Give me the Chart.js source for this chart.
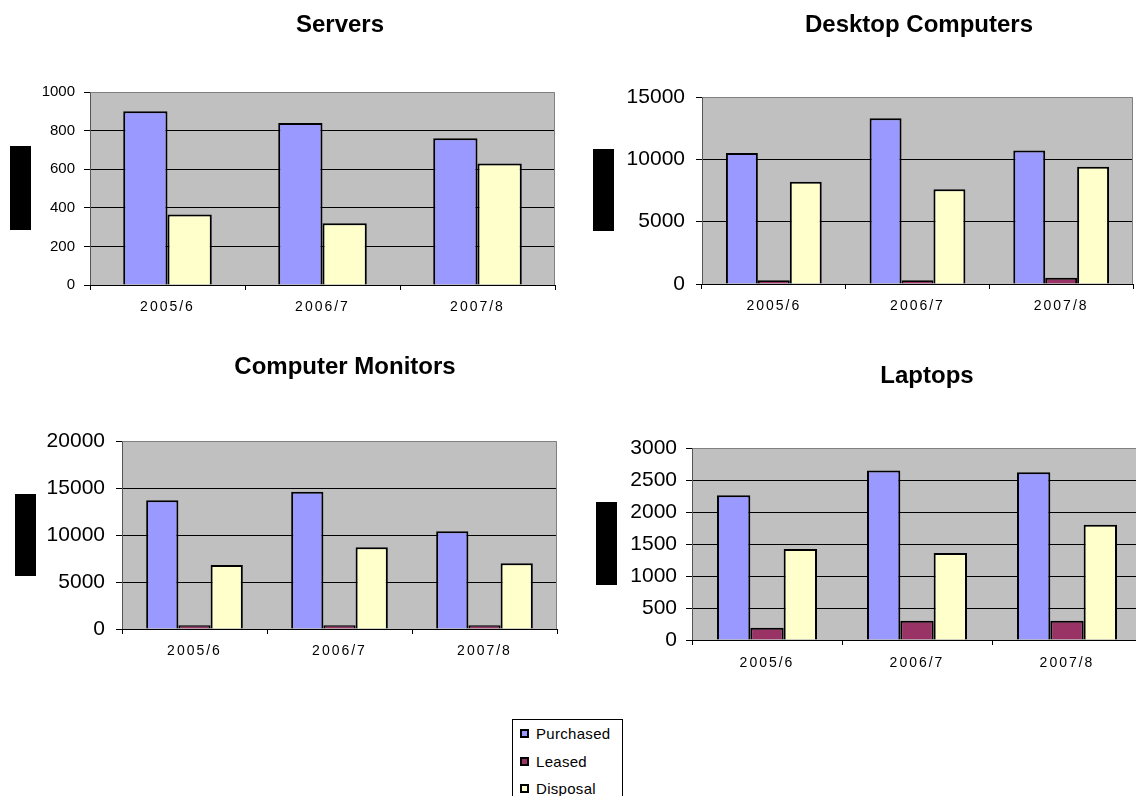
<!DOCTYPE html>
<html>
<head>
<meta charset="utf-8">
<title>IT Equipment</title>
<script src="https://cdn.jsdelivr.net/npm/chart.js@4.4.1/dist/chart.umd.min.js"></script>
<style>
  html, body { margin: 0; padding: 0; background: #fff; }
  body { width: 1136px; height: 796px; position: relative; overflow: hidden;
         font-family: "Liberation Sans", Arial, sans-serif; }
  canvas { position: absolute; }
  #legend { position: absolute; left: 512px; top: 719px; width: 111px; height: 95px;
            border: 1px solid #000; box-sizing: border-box; background: #fff; }
  .item { position: absolute; left: 7px; height: 18px; display: flex; align-items: center;
          font-size: 15px; color: #000; white-space: nowrap; letter-spacing: 0.3px; }
  .swatch { width: 9px; height: 9px; box-sizing: border-box; border: 2px solid #000;
            margin-right: 7px; }
</style>
</head>
<body>
<canvas id="servers"  width="560" height="330" style="left:0px;top:0px"></canvas>
<canvas id="desktops" width="556" height="330" style="left:580px;top:0px"></canvas>
<canvas id="monitors" width="565" height="330" style="left:0px;top:340px"></canvas>
<canvas id="laptops"  width="580" height="340" style="left:580px;top:340px"></canvas>
<div id="legend"></div>
<script>
// ---- data ----
const categories = ['2005/6', '2006/7', '2007/8'];
const seriesNames = ['Purchased', 'Leased', 'Disposal'];

const serversPurchased = [900, 840, 760];
const serversLeased    = [null, null, null];
const serversDisposal  = [365, 320, 630];

const desktopPurchased = [10500, 13300, 10700];
const desktopLeased    = [300, 300, 500];
const desktopDisposal  = [8200, 7600, 9400];

const monitorsPurchased = [13700, 14600, 10400];
const monitorsLeased    = [400, 400, 400];
const monitorsDisposal  = [6800, 8700, 7000];

const laptopsPurchased = [2260, 2650, 2620];
const laptopsLeased    = [190, 300, 300];
const laptopsDisposal  = [1420, 1360, 1800];

// value axis ranges (max, step)
const serversAxis  = [1000, 200];
const desktopAxis  = [15000, 5000];
const monitorsAxis = [20000, 5000];
const laptopsAxis  = [3000, 500];

// ---- styles ----
const seriesColors = ['#9999FF', '#993366', '#FFFFCC'];
const FONT = '"Liberation Sans", Arial, sans-serif';

// plot background, frame, panel heading and axis-title block
const panelDecor = {
  id: 'panelDecor',
  beforeDraw(chart) {
    const { ctx, chartArea: a } = chart;
    ctx.save();
    ctx.fillStyle = '#C0C0C0';
    ctx.fillRect(a.left, a.top, a.right - a.left, a.bottom - a.top);
    ctx.restore();
  },
  beforeDatasetsDraw(chart) {
    const { ctx, chartArea: a } = chart;
    ctx.save();
    ctx.strokeStyle = '#808080';
    ctx.lineWidth = 1;
    ctx.beginPath();
    ctx.moveTo(Math.round(a.left) + 0.5, Math.round(a.top) + 0.5);
    ctx.lineTo(Math.round(a.right) - 0.5, Math.round(a.top) + 0.5);
    ctx.lineTo(Math.round(a.right) - 0.5, Math.round(a.bottom) + 0.5);
    ctx.stroke();
    ctx.restore();
  },
  afterDatasetsDraw(chart) {
    // category labels (drawn in a later layer) get wider tracking
    if ('letterSpacing' in chart.ctx) chart.ctx.letterSpacing = '2px';
  },
  afterDraw(chart, args, o) {
    const { ctx } = chart;
    if ('letterSpacing' in ctx) ctx.letterSpacing = '0px';
    ctx.save();
    ctx.fillStyle = '#000';
    ctx.font = 'bold 24px ' + FONT;
    ctx.textAlign = 'center';
    ctx.textBaseline = 'middle';
    ctx.fillText(o.text, o.tx, o.ty);
    ctx.fillRect(o.block[0], o.block[1], o.block[2], o.block[3]);
    ctx.restore();
  }
};

function makePanel(id, title, purchased, leased, disposal, axis, look) {
  const [yMax, yStep] = axis;
  const values = [purchased, leased, disposal];
  return new Chart(document.getElementById(id), {
    type: 'bar',
    data: {
      labels: categories,
      datasets: seriesNames.map((name, i) => ({
        label: name,
        data: values[i],
        backgroundColor: seriesColors[i]
      }))
    },
    plugins: [panelDecor],
    options: {
      responsive: false,
      animation: false,
      events: [],
      layout: { padding: { left: 0, top: look.top, right: look.right, bottom: 0 } },
      datasets: {
        bar: {
          categoryPercentage: look.cat,
          barPercentage: 1,
          borderWidth: 2,
          borderColor: '#000',
          borderSkipped: 'start',
          skipNull: true
        }
      },
      plugins: {
        legend: { display: false },
        title: { display: false },
        tooltip: { enabled: false },
        panelDecor: { text: title, tx: look.tx, ty: look.ty, block: look.block }
      },
      scales: {
        x: {
          grid: { display: true, drawOnChartArea: false, drawTicks: true, tickLength: 5,
                  tickColor: '#000', offset: true },
          border: { display: true, color: '#000', width: 1, z: 1 },
          ticks: { color: '#000', font: { family: FONT, size: 14 }, padding: look.xPad,
                   maxRotation: 0, autoSkip: false, z: 1 },
          afterFit: (s) => { s.height = look.xh; }
        },
        y: {
          min: 0,
          max: yMax,
          ticks: { stepSize: yStep, color: '#000', font: { family: FONT, size: look.yFont },
                   padding: look.yPad, callback: (v) => String(v) },
          grid: {
            color: (c) => (c.tick && c.tick.value === yMax) ? 'rgba(0,0,0,0)' : '#000',
            tickColor: '#000',
            tickLength: 6,
            lineWidth: 1
          },
          border: { display: true, color: '#555', width: 1 },
          afterFit: (s) => { s.width = look.yw; }
        }
      }
    }
  });
}

makePanel('servers', 'Servers', serversPurchased, serversLeased, serversDisposal, serversAxis,
  { top: 92, right: 5, xh: 45, yw: 90, cat: 2 / 3.5, yFont: 15, yPad: 9, xPad: 9,
    tx: 340, ty: 25, block: [10, 146, 21, 84] });

makePanel('desktops', 'Desktop Computers', desktopPurchased, desktopLeased, desktopDisposal, desktopAxis,
  { top: 97, right: 3, xh: 46, yw: 122, cat: 3 / 4.5, yFont: 21, yPad: 11, xPad: 9,
    tx: 339, ty: 25, block: [13, 149, 21, 82] });

makePanel('monitors', 'Computer Monitors', monitorsPurchased, monitorsLeased, monitorsDisposal, monitorsAxis,
  { top: 101, right: 8, xh: 41, yw: 122, cat: 3 / 4.5, yFont: 21, yPad: 11, xPad: 9,
    tx: 345, ty: 27, block: [15, 154, 21, 82] });

makePanel('laptops', 'Laptops', laptopsPurchased, laptopsLeased, laptopsDisposal, laptopsAxis,
  { top: 108, right: 18, xh: 40, yw: 112, cat: 3 / 4.5, yFont: 21, yPad: 9, xPad: 10,
    tx: 347, ty: 36, block: [16, 162, 21, 83] });

// legend built from the series names and colours
const legend = document.getElementById('legend');
const rowTops = [4, 32, 59];
seriesNames.forEach((name, i) => {
  const row = document.createElement('div');
  row.className = 'item';
  row.style.top = rowTops[i] + 'px';
  const sw = document.createElement('span');
  sw.className = 'swatch';
  sw.style.background = seriesColors[i];
  row.appendChild(sw);
  row.appendChild(document.createTextNode(name));
  legend.appendChild(row);
});
</script>
</body>
</html>
